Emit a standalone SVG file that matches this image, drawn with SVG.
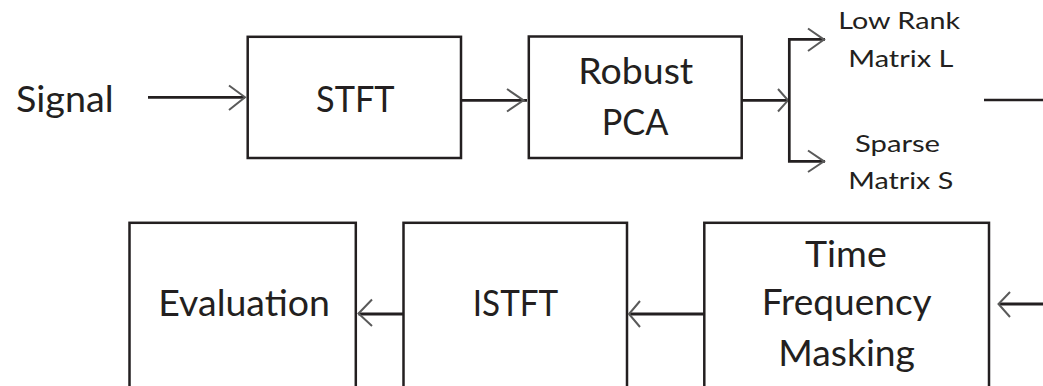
<svg xmlns="http://www.w3.org/2000/svg" width="1043" height="386" viewBox="0 0 1043 386">
<style>
.box{fill:#ffffff;stroke:#231f20;stroke-width:2.5}
.t{font-family:Lato,"Liberation Sans",sans-serif;font-size:36px;fill:#231f20}
.s{font-family:Lato,"Liberation Sans",sans-serif;font-size:24px;fill:#231f20}
.ln{fill:none;stroke:#231f20;stroke-width:2.7}
.lb{fill:none;stroke:#231f20;stroke-width:3.2}
.ah{fill:none;stroke:#5a5a5a;stroke-width:2}
</style>
<rect width="1043" height="386" fill="#ffffff"/>
<g id="signal">
<text class="t" x="16" y="111.7" textLength="97.6" lengthAdjust="spacingAndGlyphs">Signal</text>
</g>
<g id="stft">
<rect class="box" x="247.7" y="36.8" width="213.3" height="121.2"/>
<text class="t" x="316" y="111.7" textLength="78.6" lengthAdjust="spacingAndGlyphs">STFT</text>
</g>
<g id="robust-pca">
<rect class="box" x="528.8" y="36.5" width="212.9" height="121.5"/>
<text class="t" x="578.3" y="84" textLength="115" lengthAdjust="spacingAndGlyphs">Robust</text>
<text class="t" x="601.7" y="135" textLength="66.7" lengthAdjust="spacingAndGlyphs">PCA</text>
</g>
<g id="low-rank">
<text class="s" x="838.3" y="29.3" textLength="121.7" lengthAdjust="spacingAndGlyphs">Low Rank</text>
<text class="s" x="848.3" y="66.7" textLength="105" lengthAdjust="spacingAndGlyphs">Matrix L</text>
</g>
<g id="sparse">
<text class="s" x="855" y="151.7" textLength="85" lengthAdjust="spacingAndGlyphs">Sparse</text>
<text class="s" x="848.3" y="189.3" textLength="105" lengthAdjust="spacingAndGlyphs">Matrix S</text>
</g>
<g id="evaluation">
<rect class="box" x="129.5" y="222.8" width="226.3" height="200"/>
<text class="t" x="158.3" y="316" textLength="171.7" lengthAdjust="spacingAndGlyphs">Evaluation</text>
</g>
<g id="istft">
<rect class="box" x="403.5" y="222.8" width="223.5" height="200"/>
<text class="t" x="472.8" y="316" textLength="85.4" lengthAdjust="spacingAndGlyphs">ISTFT</text>
</g>
<g id="tf-masking">
<rect class="box" x="704.3" y="222.8" width="284.7" height="200"/>
<text class="t" x="805" y="266.7" textLength="81.7" lengthAdjust="spacingAndGlyphs">Time</text>
<text class="t" x="761.7" y="315" textLength="170" lengthAdjust="spacingAndGlyphs">Frequency</text>
<text class="t" x="778.3" y="366" textLength="136.7" lengthAdjust="spacingAndGlyphs">Masking</text>
</g>
<g id="connectors">
<line class="ln" x1="148" y1="97.3" x2="245" y2="97.3"/>
<polyline class="ah" points="229,85.5 245,97.3 229,110"/>
<line class="ln" x1="461" y1="100.3" x2="527" y2="100.3"/>
<polyline class="ah" points="507,89 523.5,100.3 507,111.5"/>
<line class="ln" x1="741.7" y1="100.3" x2="789.3" y2="100.3"/>
<polyline class="ah" points="778,89 788,100.3 778,111.5"/>
<polyline class="ln" points="825,39.3 789.3,39.3 789.3,161.3 825,161.3"/>
<polyline class="ah" points="808,28.5 824,39.6 808,51"/>
<polyline class="ah" points="808,150.5 824,161.3 808,172"/>
<line class="ln" x1="984" y1="100" x2="1043" y2="100"/>
<line class="lb" x1="1043" y1="304" x2="999" y2="304"/>
<polyline class="ah" points="1010,292 998.5,304 1010,317"/>
<line class="lb" x1="704.3" y1="314" x2="629" y2="314"/>
<polyline class="ah" points="640,301 629,314 640,327"/>
<line class="lb" x1="403.5" y1="314" x2="358.5" y2="314"/>
<polyline class="ah" points="372,299.5 358.5,313.5 372,326"/>
</g>
</svg>
